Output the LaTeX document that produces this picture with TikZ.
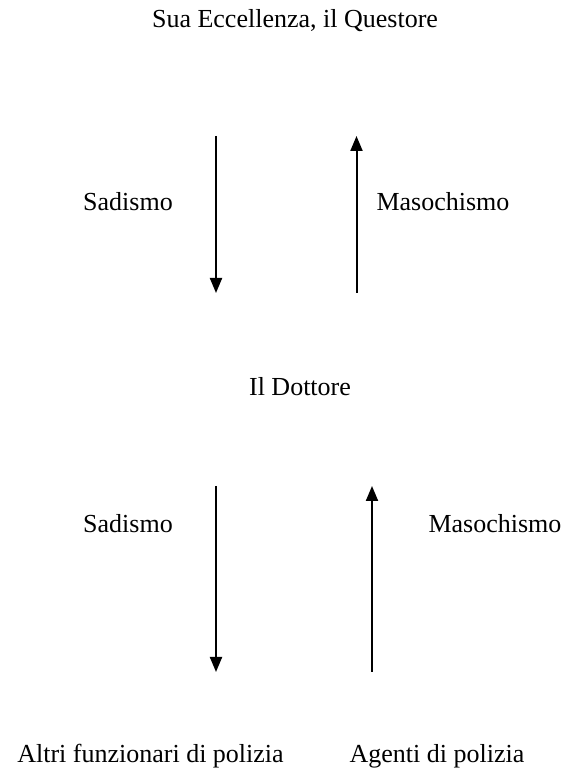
\documentclass[tikz,border=0pt]{standalone}
\usepackage{fontspec}
\setmainfont{Liberation Serif}
\usetikzlibrary{arrows.meta}
\begin{document}
\begin{tikzpicture}[x=1pt,y=1pt,
  lbl/.style={font=\fontsize{26}{30}\selectfont, inner sep=0pt, anchor=base},
  arr/.style={line width=2pt, -{Triangle[length=15pt,width=12pt]}}]
\useasboundingbox (0,0) rectangle (563,769);
\node[lbl] (q) at (295,741.7) {Sua Eccellenza, il Questore};
\coordinate (a1s) at (216,633);
\coordinate (a1e) at (216,476);
\coordinate (a2s) at (356.5,476);
\coordinate (a2e) at (356.5,633);
\draw[arr] (a1s) -- (a1e);
\draw[arr] (a2s) -- (a2e);
\node[lbl] (s1) at (128,558) {Sadismo};
\node[lbl] (m1) at (443,558) {Masochismo};
\node[lbl] (d) at (300,373) {Il Dottore};
\coordinate (a3s) at (216,283);
\coordinate (a3e) at (216,97);
\coordinate (a4s) at (372,97);
\coordinate (a4e) at (372,283);
\draw[arr] (a3s) -- (a3e);
\draw[arr] (a4s) -- (a4e);
\node[lbl] (s2) at (128,236) {Sadismo};
\node[lbl] (m2) at (495,236) {Masochismo};
\node[lbl] (f) at (150.5,6) {Altri funzionari di polizia};
\node[lbl] (g) at (437,6) {Agenti di polizia};
\end{tikzpicture}
\end{document}
